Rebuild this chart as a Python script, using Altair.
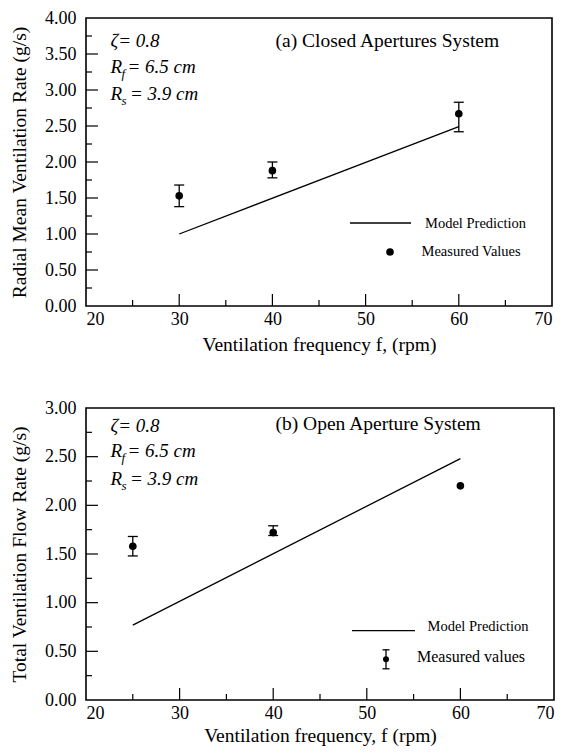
import altair as alt
import pandas as pd

# ---------------- data ----------------
# (a) Closed Apertures System
a_freq = [30, 40, 60]
a_meas = [1.53, 1.88, 2.67]
a_lo = [1.38, 1.78, 2.42]
a_hi = [1.68, 2.00, 2.83]
a_model_freq = [30, 60]
a_model = [1.00, 2.49]

# (b) Open Aperture System
b_freq = [25, 40, 60]
b_meas = [1.58, 1.72, 2.20]
b_lo = [1.48, 1.69, None]
b_hi = [1.68, 1.79, None]
b_model_freq = [25, 60]
b_model = [0.77, 2.48]

x_labels = [20, 30, 40, 50, 60, 70]
x_major = [30, 40, 50, 60]
x_minor = [25, 35, 45, 55, 65]

a_y_labels = [0.0, 0.5, 1.0, 1.5, 2.0, 2.5, 3.0, 3.5, 4.0]
a_y_major = [0.5, 1.0, 1.5, 2.0, 2.5, 3.0, 3.5]
a_y_minor = [0.25, 0.75, 1.25, 1.75, 2.25, 2.75, 3.25, 3.75]

b_y_labels = [0.0, 0.5, 1.0, 1.5, 2.0, 2.5, 3.0]
b_y_major = [0.5, 1.0, 1.5, 2.0, 2.5]
b_y_minor = [0.25, 0.75, 1.25, 1.75, 2.25, 2.75]

FONT = "Liberation Serif"


def txt(s, x, y, size, style="normal", align="left"):
    return alt.Chart(pd.DataFrame({"s": [s]})).mark_text(
        align=align, baseline="middle", font=FONT, fontSize=size,
        fontStyle=style, color="black"
    ).encode(text="s:N", x=alt.value(x), y=alt.value(y))


def panel(W, H, freq, meas, lo, hi, mfreq, model, ylabels, ymajor, yminor, ymax,
          ytitle, xtitle, x_title_pad, caption, cap_y, ann_y, legend_kind, leg_y,
          meas_label):
    xs = alt.Scale(domain=[20, 70], nice=False, zero=False)
    ys = alt.Scale(domain=[0, ymax], nice=False)
    common = dict(ticks=False, tickSize=0, domain=False, grid=False,
                  labelFont=FONT, labelFontSize=18, labelColor="black",
                  titleFont=FONT, titleColor="black", titleFontWeight="normal")
    xax = alt.Axis(values=x_labels, format="d", title=xtitle, titleFontSize=19.5,
                   labelPadding=4, titlePadding=x_title_pad, **common)
    yax = alt.Axis(values=ylabels, format=".2f", title=ytitle, titleFontSize=19.5,
                   labelPadding=10, titlePadding=15, **common)

    def X(field):
        return alt.X(field, type="quantitative", scale=xs, axis=xax)

    def Y(field):
        return alt.Y(field, type="quantitative", scale=ys, axis=yax)

    model_df = pd.DataFrame({"f": mfreq, "v": model})
    line = alt.Chart(model_df).mark_line(color="black", strokeWidth=1.3).encode(
        x=X("f"), y=Y("v"))

    meas_df = pd.DataFrame({"f": freq, "v": meas, "lo": lo, "hi": hi})
    err_df = meas_df.dropna()
    pts = alt.Chart(meas_df).mark_circle(size=58, color="black", opacity=1).encode(
        x=X("f"), y=Y("v"))
    err = alt.Chart(err_df).mark_rule(color="black", strokeWidth=1.3).encode(
        x=X("f"), y=Y("lo"), y2="hi:Q")
    cap_lo = alt.Chart(err_df).mark_tick(orient="horizontal", size=10, thickness=1.3,
                                         color="black", opacity=1).encode(
        x=X("f"), y=Y("lo"))
    cap_hi = alt.Chart(err_df).mark_tick(orient="horizontal", size=10, thickness=1.3,
                                         color="black", opacity=1).encode(
        x=X("f"), y=Y("hi"))

    # inward ticks
    ymaj = alt.Chart(pd.DataFrame({"t": ymajor})).mark_rule(color="black", strokeWidth=1.2).encode(
        y=Y("t"), x=alt.value(0), x2=alt.value(12))
    ymin = alt.Chart(pd.DataFrame({"t": yminor})).mark_rule(color="black", strokeWidth=1.2).encode(
        y=Y("t"), x=alt.value(0), x2=alt.value(6))
    xmaj = alt.Chart(pd.DataFrame({"t": x_major})).mark_rule(color="black", strokeWidth=1.2).encode(
        x=X("t"), y=alt.value(H), y2=alt.value(H - 12))
    xmin = alt.Chart(pd.DataFrame({"t": x_minor})).mark_rule(color="black", strokeWidth=1.2).encode(
        x=X("t"), y=alt.value(H), y2=alt.value(H - 6))

    # annotations
    layers = [line, err, cap_lo, cap_hi, pts, ymaj, ymin, xmaj, xmin]
    layers.append(txt(caption, 189.5, cap_y, 19.5))
    y1, y2, y3 = ann_y
    layers.append(txt("ζ= 0.8", 24.5, y1, 19, "italic"))
    layers.append(txt("R", 24.5, y2, 19, "italic"))
    layers.append(txt("f", 35.5, y2 + 7, 13, "italic"))
    layers.append(txt("= 6.5 cm", 41.5, y2, 19, "italic"))
    layers.append(txt("R", 24.5, y3, 19, "italic"))
    layers.append(txt("s", 35.5, y3 + 7, 13, "italic"))
    layers.append(txt("= 3.9 cm", 44, y3, 19, "italic"))

    # legend
    ly1, ly2 = leg_y
    k0 = pd.DataFrame({"k": [0]})
    if legend_kind == "a":
        layers.append(alt.Chart(k0).mark_rule(color="black", strokeWidth=1.3).encode(
            x=alt.value(264), x2=alt.value(325), y=alt.value(ly1)))
        layers.append(txt("Model Prediction", 339, ly1 + 1, 14.5))
        layers.append(alt.Chart(k0).mark_circle(size=58, color="black", opacity=1).encode(
            x=alt.value(304), y=alt.value(ly2)))
        layers.append(txt(meas_label, 335.5, ly2, 14.5))
    else:
        layers.append(alt.Chart(k0).mark_rule(color="black", strokeWidth=1.3).encode(
            x=alt.value(266), x2=alt.value(329), y=alt.value(ly1)))
        layers.append(txt("Model Prediction", 341.5, ly1 - 4, 14.5))
        layers.append(alt.Chart(k0).mark_rule(color="black", strokeWidth=1.3).encode(
            x=alt.value(300), y=alt.value(ly2 - 9.5), y2=alt.value(ly2 + 9.5)))
        layers.append(alt.Chart(k0).mark_tick(orient="horizontal", size=7, thickness=1.3,
                                              color="black", opacity=1).encode(
            x=alt.value(300), y=alt.value(ly2 - 9.5)))
        layers.append(alt.Chart(k0).mark_tick(orient="horizontal", size=7, thickness=1.3,
                                              color="black", opacity=1).encode(
            x=alt.value(300), y=alt.value(ly2 + 9.5)))
        layers.append(alt.Chart(k0).mark_circle(size=36, color="black", opacity=1).encode(
            x=alt.value(300), y=alt.value(ly2)))
        layers.append(txt(meas_label, 331, ly2 - 2.5, 16))

    return alt.layer(*layers).properties(width=W, height=H)


top = panel(466, 288, a_freq, a_meas, a_lo, a_hi, a_model_freq, a_model,
            a_y_labels, a_y_major, a_y_minor, 4.0,
            "Radial Mean Ventilation Rate (g/s)", "Ventilation frequency f, (rpm)", 7,
            "(a)  Closed Apertures System", 23.0, (23.0, 49.0, 76.0), "a",
            (205.0, 234.0), "Measured Values")

bottom = panel(468, 292, b_freq, b_meas, b_lo, b_hi, b_model_freq, b_model,
               b_y_labels, b_y_major, b_y_minor, 3.0,
               "Total Ventilation Flow Rate (g/s)", "Ventilation frequency, f (rpm)", 4,
               "(b)  Open Aperture System", 16.0, (17.7, 43.0, 71.3), "b",
               (222.7, 251.3), "Measured values")

chart = alt.vconcat(top, bottom, spacing=102, bounds="flush").properties(
    padding={"left": 0, "top": 0, "right": 0, "bottom": 0}
).configure_view(
    stroke="black", strokeWidth=1.6
)

chart.save("out.html", embed_options={"renderer": "svg", "actions": False})
